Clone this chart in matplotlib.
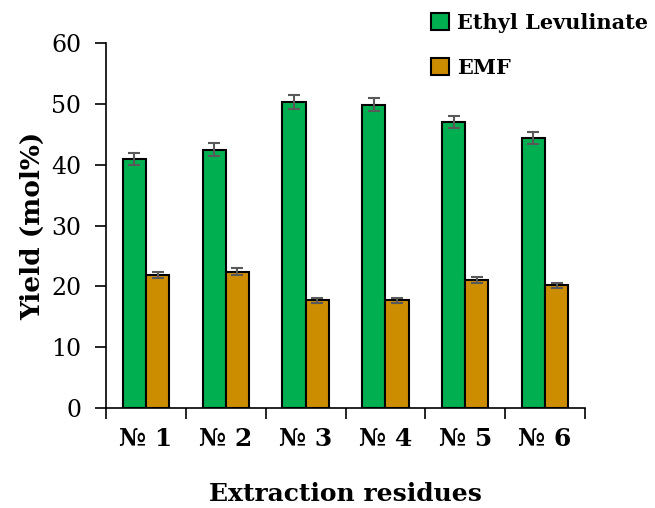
import numpy as np
import matplotlib.pyplot as plt
from matplotlib.ticker import FixedLocator

plt.rcParams['font.family'] = ['DejaVu Serif']

# data
categories = ['№ 1', '№ 2', '№ 3', '№ 4', '№ 5', '№ 6']
ethyl_lev = [40.9, 42.5, 50.3, 49.9, 47.1, 44.4]
ethyl_lev_err = [1.0, 1.0, 1.1, 1.1, 1.0, 1.0]
emf = [21.9, 22.4, 17.7, 17.7, 21.1, 20.2]
emf_err = [0.5, 0.6, 0.4, 0.4, 0.5, 0.4]

fig = plt.figure(figsize=(6.55, 5.08), dpi=100)
ax = fig.add_axes([0.162, 0.197, 0.731, 0.718])

x = np.arange(len(categories))
w = 0.29
err_kw = dict(ecolor='#595959', elinewidth=1.5, capsize=4, capthick=1.5)

ax.bar(x - w / 2, ethyl_lev, w, yerr=ethyl_lev_err, color='#00B050',
       edgecolor='black', linewidth=1.5, error_kw=err_kw, label='Ethyl Levulinate')
ax.bar(x + w / 2, emf, w, yerr=emf_err, color='#CC8E00',
       edgecolor='black', linewidth=1.5, error_kw=err_kw, label='EMF')

ax.set_xlim(-0.5, len(categories) - 0.5)
ax.set_ylim(0, 60)
ax.set_yticks(range(0, 61, 10))
ax.tick_params(axis='y', direction='out', length=8, width=1.2, labelsize=17, pad=10)

# category labels at centers, tick marks at the boundaries
ax.set_xticks(x)
ax.set_xticklabels(categories, fontsize=18, fontweight='bold')
ax.tick_params(axis='x', which='major', length=0, pad=14)
ax.xaxis.set_minor_locator(FixedLocator(np.arange(-0.5, len(categories), 1.0)))
ax.tick_params(axis='x', which='minor', direction='out', length=8, width=1.2)

for s in ['top', 'right']:
    ax.spines[s].set_visible(False)
for s in ['left', 'bottom']:
    ax.spines[s].set_linewidth(1.2)

ax.set_ylabel('Yield (mol%)', fontsize=19, fontweight='bold', labelpad=4)
ax.set_xlabel('Extraction residues', fontsize=18, fontweight='bold', labelpad=22)

fig.legend(loc='upper left', bbox_to_anchor=(0.63, 1.012), frameon=False,
           prop={'weight': 'bold', 'size': 15}, handlelength=0.85, handleheight=0.85,
           handletextpad=0.4, labelspacing=1.2)

fig.savefig('out.png', dpi=100)
